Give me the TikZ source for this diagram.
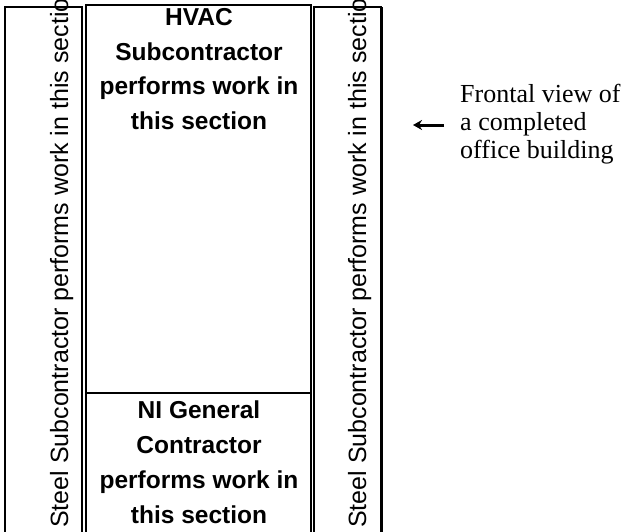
\documentclass[tikz,border=0pt]{standalone}
\usepackage{fontspec}
\setmainfont{Liberation Serif}
\newfontfamily\arialf{Liberation Sans}
\newfontfamily\arialbf{Liberation Sans Bold}
\usetikzlibrary{arrows.meta}
\begin{document}
\begin{tikzpicture}[x=1pt,y=-1pt,
  box/.style={draw=black,line width=1.5pt,fill=white},
  sidetext/.style={rotate=90,anchor=base west,inner sep=0pt,font=\arialf\fontsize{25}{30}\selectfont},
  midtext/.style={anchor=north,inner sep=0pt,align=center,font=\arialbf\fontsize{24.5}{34.7}\selectfont},
  note/.style={anchor=north west,inner sep=0pt,align=left,font=\fontsize{26}{28}\selectfont}]
\useasboundingbox (0,0) rectangle (631,531);
\clip (0,0) rectangle (631,531);
% boxes
\draw[box] (5,7) rectangle (82,560);
\draw[box] (86,5) rectangle (311,560);
\draw[box] (314,7) rectangle (381,560);
\draw[line width=3pt] (381,7) -- (381,560);
\draw[line width=1.5pt] (86,393) -- (311,393);
% side texts
\node[sidetext] (ls) at (68,528) {Steel Subcontractor performs work in this section};
\node[sidetext] (rs) at (366,528) {Steel Subcontractor performs work in this section};
% middle texts
\node[midtext] (hvac) at (199,8) {HVAC\\Subcontractor\\performs work in\\this section};
\node[midtext] (ni) at (199,401) {NI General\\Contractor\\performs work in\\this section};
% note
\node[note] (fv) at (460,84) {Frontal view of\\a completed\\office building};
\coordinate (tail) at (444,125);
\coordinate (tip) at (413,125);
\draw[line width=3pt,-{Stealth[length=9pt,width=10pt]}] (tail) -- (tip);
\end{tikzpicture}
\end{document}
